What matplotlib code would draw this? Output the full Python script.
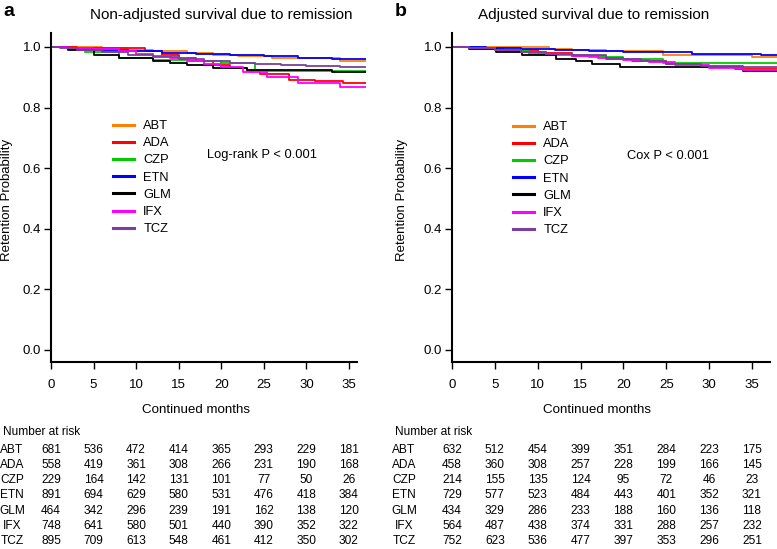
import matplotlib
matplotlib.use('Agg')
import matplotlib.pyplot as plt
import matplotlib.transforms as mtransforms

plt.rcParams['font.family'] = ['Liberation Sans', 'DejaVu Sans']

drugs = ['ABT', 'ADA', 'CZP', 'ETN', 'GLM', 'IFX', 'TCZ']
colors = ['#FF7F00', '#FF0000', '#00CC00', '#0000FF', '#000000', '#FF00FF', '#7B3F9E']
risk_times = [0, 5, 10, 15, 20, 25, 30, 35]

### Panel a: non-adjusted curves
a_times = {
    'ABT': [0, 6, 9, 12, 16, 19, 22, 26, 30, 34, 37],
    'ADA': [0, 3, 7, 11, 13, 15, 17, 19, 21, 23, 24.5, 28, 31, 34.3, 37],
    'CZP': [0, 2, 4, 8, 12, 16, 20, 24, 37],
    'ETN': [0, 2, 5, 9, 13, 17, 21, 25, 29, 33, 37],
    'GLM': [0, 2, 5, 8, 12, 14, 16, 19, 23, 33, 37],
    'IFX': [0, 2, 5, 8, 10, 12, 14, 16, 18, 20, 22.5, 25.4, 29, 34, 37],
    'TCZ': [0, 1, 3, 6, 9, 12, 15, 18, 21, 24, 27, 30, 34, 37],
}
a_surv = {
    'ABT': [1.0, 0.995, 0.99, 0.985, 0.98, 0.975, 0.97, 0.965, 0.962, 0.955, 0.955],
    'ADA': [1.0, 0.998, 0.995, 0.985, 0.975, 0.965, 0.955, 0.94, 0.93, 0.92, 0.911, 0.89, 0.886, 0.88, 0.88],
    'CZP': [1.0, 0.993, 0.982, 0.962, 0.957, 0.952, 0.947, 0.922, 0.922],
    'ETN': [1.0, 0.995, 0.99, 0.985, 0.98, 0.977, 0.973, 0.969, 0.965, 0.96, 0.959],
    'GLM': [1.0, 0.99, 0.975, 0.962, 0.952, 0.948, 0.94, 0.932, 0.925, 0.917, 0.917],
    'IFX': [1.0, 0.997, 0.993, 0.985, 0.978, 0.97, 0.963, 0.955, 0.945, 0.935, 0.918, 0.9, 0.88, 0.868, 0.868],
    'TCZ': [1.0, 0.995, 0.99, 0.983, 0.975, 0.968, 0.96, 0.953, 0.948, 0.943, 0.94, 0.937, 0.933, 0.933],
}
a_risk = {
    'ABT': [681, 536, 472, 414, 365, 293, 229, 181],
    'ADA': [558, 419, 361, 308, 266, 231, 190, 168],
    'CZP': [229, 164, 142, 131, 101, 77, 50, 26],
    'ETN': [891, 694, 629, 580, 531, 476, 418, 384],
    'GLM': [464, 342, 296, 239, 191, 162, 138, 120],
    'IFX': [748, 641, 580, 501, 440, 390, 352, 322],
    'TCZ': [895, 709, 613, 548, 461, 412, 350, 302],
}

### Panel b: adjusted curves
b_times = {
    'ABT': [0, 11.3, 14, 18, 24.6, 35, 38],
    'ADA': [0, 3, 6, 10, 14, 18, 21, 25, 29, 33, 38],
    'CZP': [0, 3, 6, 9, 12, 16, 20, 24.6, 38],
    'ETN': [0, 4, 8, 12, 16, 20, 28, 36, 38],
    'GLM': [0, 2, 5.1, 8.2, 12.1, 14.5, 16.3, 19.6, 34, 38],
    'IFX': [0, 2, 5, 8, 11, 14, 17, 20, 23, 26, 30, 34, 38],
    'TCZ': [0, 2, 5, 8, 11, 14, 18, 20, 22, 25, 29, 34, 38],
}
b_surv = {
    'ABT': [1.0, 0.993, 0.99, 0.986, 0.973, 0.966, 0.966],
    'ADA': [1.0, 0.997, 0.99, 0.98, 0.97, 0.96, 0.955, 0.945, 0.935, 0.928, 0.926],
    'CZP': [1.0, 0.995, 0.985, 0.978, 0.972, 0.966, 0.96, 0.946, 0.946],
    'ETN': [1.0, 0.997, 0.994, 0.99, 0.987, 0.984, 0.978, 0.972, 0.972],
    'GLM': [1.0, 0.994, 0.984, 0.973, 0.96, 0.952, 0.945, 0.935, 0.922, 0.922],
    'IFX': [1.0, 0.996, 0.99, 0.983, 0.977, 0.97, 0.963, 0.957, 0.95, 0.94, 0.929, 0.924, 0.924],
    'TCZ': [1.0, 0.995, 0.99, 0.983, 0.977, 0.972, 0.965, 0.96, 0.955, 0.945, 0.937, 0.934, 0.934],
}
b_risk = {
    'ABT': [632, 512, 454, 399, 351, 284, 223, 175],
    'ADA': [458, 360, 308, 257, 228, 199, 166, 145],
    'CZP': [214, 155, 135, 124, 95, 72, 46, 23],
    'ETN': [729, 577, 523, 484, 443, 401, 352, 321],
    'GLM': [434, 329, 286, 233, 188, 160, 136, 118],
    'IFX': [564, 487, 438, 374, 331, 288, 257, 232],
    'TCZ': [752, 623, 536, 477, 397, 353, 296, 251],
}

W, H = 777, 549
fig = plt.figure(figsize=(W / 100, H / 100), dpi=100)

def px(x, y):
    # pixel position -> figure fraction
    return x / W, 1 - y / H

def panel(left_px, right_px, xmax, spine_end, times, surv, risk, letter, title,
          title_x, ptext, ptext_xy, leg_px, label_x, text_left):
    x0, y0 = px(left_px, 362)
    x1, y1 = px(right_px, 33)
    ax = fig.add_axes([x0, y0, x1 - x0, y1 - y0])
    for d, c in zip(drugs, colors):
        ax.step(times[d], surv[d], where='post', color=c, lw=1.3)
    ax.set_xlim(0, xmax)
    ax.set_ylim(-0.04, 1.046)
    for s in ['top', 'right']:
        ax.spines[s].set_visible(False)
    ax.spines['left'].set_linewidth(1.5)
    ax.spines['bottom'].set_linewidth(1.5)
    ax.spines['bottom'].set_bounds(0, spine_end)
    ax.set_xticks(risk_times)
    ax.set_yticks([0.0, 0.2, 0.4, 0.6, 0.8, 1.0])
    ax.set_yticklabels(['0.0', '0.2', '0.4', '0.6', '0.8', '1.0'])
    ax.tick_params(axis='x', length=5, width=1, pad=7, labelsize=9.5)
    ax.tick_params(axis='y', length=5, width=1, pad=2, labelsize=9.5)
    ax.patch.set_alpha(0)

    leg = ax.legend(drugs, loc='upper left', frameon=False, fontsize=9.3,
                    handlelength=1.6, handletextpad=0.75, labelspacing=0.4,
                    borderpad=0, borderaxespad=0,
                    bbox_to_anchor=px(*leg_px), bbox_transform=fig.transFigure)
    for line in leg.get_lines():
        line.set_linewidth(2.2)
    ax.text(ptext_xy[0], ptext_xy[1], ptext, fontsize=9.3, va='center', ha='left')

    # labels and titles
    fig.text(*px(text_left, 12), letter, fontsize=14, fontweight='bold', va='center')
    fig.text(*px(title_x, 15), title, fontsize=11, ha='center', va='center')
    fig.text(*px(label_x, 200), 'Retention Probability', fontsize=9.5, rotation=90,
             ha='center', va='center')
    fig.text(*px(left_px + 145, 410), 'Continued months', fontsize=9.6, ha='center', va='center')

    # number at risk table
    fig.text(*px(text_left, 432), 'Number at risk', fontsize=8.6, ha='left', va='center')
    trans = mtransforms.blended_transform_factory(ax.transData, fig.transFigure)
    for i, d in enumerate(drugs):
        yy = 1 - (450 + 15.15 * i) / H
        fig.text((text_left + 9) / W, yy, d, fontsize=8.6, ha='center', va='center')
        for t, n in zip(risk_times, risk[d]):
            ax.text(t, yy, str(n), fontsize=8.6, ha='center', va='center',
                    transform=trans, clip_on=False)
    return ax

panel(51, 366, 37, 36, a_times, a_surv, a_risk, 'a',
      'Non-adjusted survival due to remission', 221, 'Log-rank P < 0.001',
      (18.3, 0.644), (113, 120), 7, 3)
panel(452, 777.7, 38, 37.1, b_times, b_surv, b_risk, 'b',
      'Adjusted survival due to remission', 594, 'Cox P < 0.001',
      (20.4, 0.641), (513, 121), 402, 395)

fig.savefig('out.png', dpi=100)
